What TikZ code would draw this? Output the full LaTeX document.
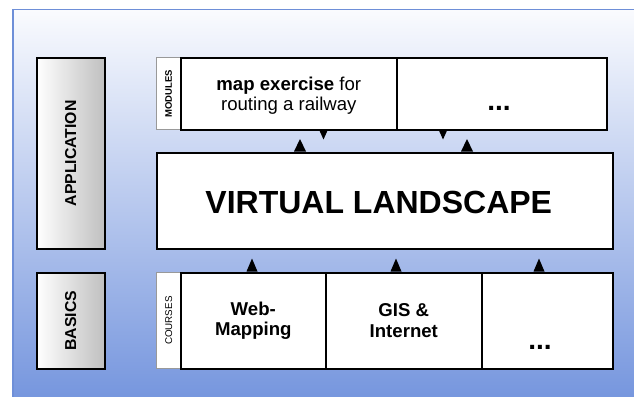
\documentclass[tikz,border=0pt]{standalone}
\usepackage{fontspec}
\setmainfont{Liberation Sans}
\begin{document}
\begin{tikzpicture}[x=1pt,y=-1pt,
  box/.style={draw=black, line width=1.6pt, fill=white, inner sep=0pt, anchor=north west, align=center},
  sidebox/.style={draw=black, line width=1.6pt, inner sep=0pt, anchor=north west, left color=white, right color=black!25},
  tab/.style={draw=black!40, line width=1.3pt, fill=white, inner sep=0pt, anchor=north west},
  tri/.style={fill=black}
]
\useasboundingbox (0,0) rectangle (634,396);
\clip (0,0) rectangle (634,396);
\definecolor{bgtop}{RGB}{250,251,254}
\definecolor{bgmid}{RGB}{204,214,242}
\definecolor{bgbot}{RGB}{114,147,221}
\definecolor{bgline}{RGB}{110,143,216}
\node[draw=bgline, line width=1.5pt, top color=bgtop, middle color=bgmid, bottom color=bgbot, anchor=north west, minimum width=640pt, minimum height=400pt, inner sep=0pt] (bg) at (12,9) {};

% side labels
\node[sidebox, minimum width=68pt, minimum height=191pt] (app) at (36,57) {};
\node[rotate=90, font=\bfseries\fontsize{15.8}{18}\selectfont] (apptxt) at (app.center) {APPLICATION};
\node[sidebox, minimum width=68pt, minimum height=96pt] (basics) at (36,272) {};
\node[rotate=90, font=\bfseries\fontsize{15.8}{18}\selectfont] (basicstxt) at (basics.center) {BASICS};

% modules row
\node[tab, minimum width=24pt, minimum height=72pt] (modtab) at (156,57) {};
\node[rotate=90, font=\bfseries\fontsize{9.5}{11}\selectfont] (modtxt) at (modtab.center) {MODULES};
\node[box, minimum width=216pt, minimum height=72pt] (map) at (180,57) {};
\node[align=center, font=\fontsize{18.6}{20}\selectfont] (maptxt) at ([yshift=-2pt]map.center) {\textbf{map exercise} for\\routing a railway};
\node[box, minimum width=210pt, minimum height=72pt] (moddots) at (396,57) {};
\node[anchor=base, font=\bfseries\fontsize{28}{30}\selectfont, inner sep=0pt] (moddotstxt) at (499,110) {...};

% virtual landscape
\node[box, minimum width=456pt, minimum height=96pt] (vl) at (156,152) {};
\node[font=\bfseries\fontsize{32}{36}\selectfont] (vltxt) at ([xshift=-6pt,yshift=-2pt]vl.center) {VIRTUAL LANDSCAPE};

% courses row
\node[tab, minimum width=24pt, minimum height=96pt] (crstab) at (156,272) {};
\node[rotate=90, font=\fontsize{9.8}{11}\selectfont] (crstxt) at (crstab.center) {COURSES};
\node[box, minimum width=145pt, minimum height=96pt, font=\bfseries\fontsize{18.6}{20.5}\selectfont] (web) at (180,272) {Web-\\Mapping};
\node[box, minimum width=156pt, minimum height=96pt, font=\bfseries\fontsize{18.6}{20.5}\selectfont] (gis) at (325,272) {GIS \&\\Internet};
\node[box, minimum width=131pt, minimum height=96pt] (crsdots) at (481,272) {};
\node[anchor=base, font=\bfseries\fontsize{28}{30}\selectfont, inner sep=0pt] (crsdotstxt) at (540,349) {...};

% up arrows into the virtual landscape from the courses
\foreach \x in {252,396,539}
  \fill[tri] (\x-5.5,271.5) -- (\x,258.5) -- (\x+5.5,271.5) -- cycle;
% up arrows from the virtual landscape to the modules
\foreach \x in {300,467}
  \fill[tri] (\x-6,151.5) -- (\x,139) -- (\x+6,151.5) -- cycle;
% down arrows from the modules
\foreach \x in {323.5,443}
  \fill[tri] (\x-4.5,129.5) -- (\x,139.5) -- (\x+4.5,129.5) -- cycle;
\end{tikzpicture}
\end{document}
